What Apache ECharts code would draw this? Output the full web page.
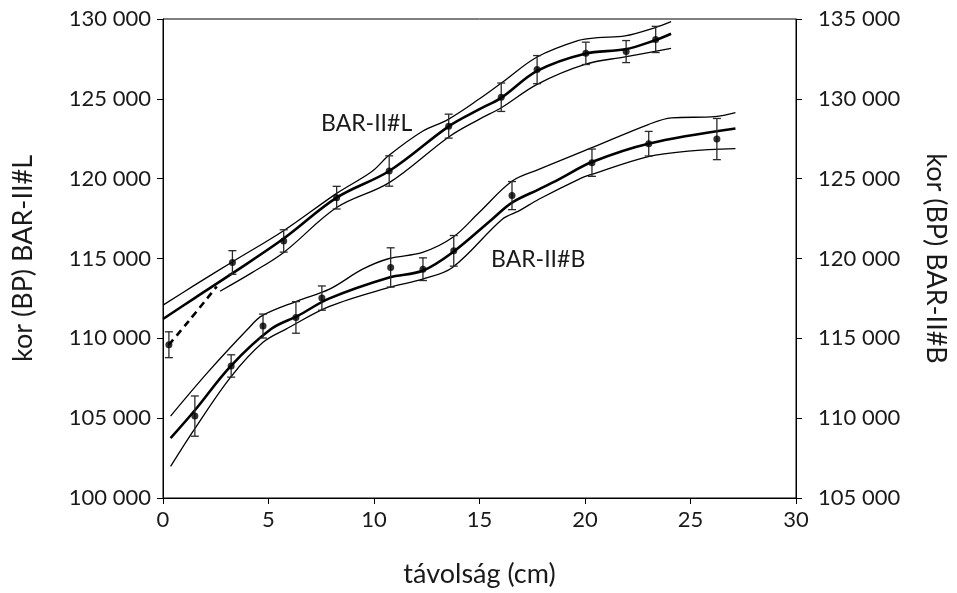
<!DOCTYPE html>
<html><head><meta charset="utf-8">
<script src="https://cdn.jsdelivr.net/npm/echarts@6/dist/echarts.min.js"></script>
<style>html,body{margin:0;padding:0;background:#fff}#c{width:957px;height:593px}</style>
</head><body><div id="c"></div>
<script>
// axis ticks
const xTicks = [0, 5, 10, 15, 20, 25, 30];
const leftTicks = [100000, 105000, 110000, 115000, 120000, 125000, 130000];
const rightTicks = [105000, 110000, 115000, 120000, 125000, 130000, 135000];

// BAR-II#L measured points (left axis)
const L_x   = [0.28, 3.29, 5.72, 8.23, 10.72, 13.54, 16.03, 17.73, 20.04, 21.95, 23.35];
const L_y   = [109600, 114750, 116100, 118810, 120480, 123290, 125100, 126830, 127850, 127960, 128720];
const L_err = [810, 740, 700, 710, 950, 750, 890, 880, 700, 690, 820];

// BAR-II#B measured points (right axis)
const B_x   = [1.51, 3.23, 4.74, 6.30, 7.53, 10.79, 12.32, 13.78, 16.54, 20.33, 23.02, 26.25];
const B_y   = [110130, 113270, 115770, 116310, 117520, 119440, 119330, 120480, 123940, 126000, 127190, 127480];
const B_err = [1260, 700, 750, 990, 760, 1230, 710, 960, 880, 855, 770, 1290];

// BAR-II#L age model curves (left axis)
const L_upper = [[0,112080],[1.5,113330],[3.3,114800],[5.75,116770],[8.23,119080],[9.9,120450],[10.7,121450],[12.3,122970],[13.5,123700],[15,125000],[16.1,126050],[17.73,127620],[19.7,128660],[20.6,128830],[21.9,128940],[23.3,129450],[24.08,129830]];
const L_mid   = [[0,111210],[1.5,112520],[3.3,114080],[5.72,116250],[8.23,118810],[10.72,120480],[13.56,123290],[15,124350],[16.05,125080],[17.73,126750],[20,127830],[21.9,128100],[23.3,128660],[24.08,129080]];
const L_lower = [[2.7,112950],[4.2,114100],[5.72,115380],[8.23,118190],[10.72,119750],[13.56,122630],[15,123730],[16.05,124460],[17.73,125910],[20,127160],[21.9,127630],[24.08,128160]];
const L_dashed = [[0.28,109600],[1.2,111050],[2.55,113250]];

// BAR-II#B age model curves (right axis)
const B_upper = [[0.36,110130],[2.13,112880],[4.02,115580],[4.7,116420],[6.39,117350],[7.89,118080],[9.46,119330],[10.72,120000],[12.3,120380],[13.72,121310],[14.98,122880],[16.55,124850],[17.81,125580],[20.33,126940],[23.0,128390],[24.1,128810],[26.16,128880],[27.13,129130]];
const B_mid   = [[0.36,108750],[1.5,110480],[3.2,113250],[5.12,115580],[6.39,116410],[7.89,117500],[10.72,118810],[12.3,119230],[13.72,120380],[15.6,122460],[16.54,123500],[17.81,124330],[18.76,124960],[20.33,126040],[23.0,127190],[27.13,128140]];
const B_lower = [[0.36,106980],[1.5,109330],[3.2,112560],[4.74,114750],[5.83,115580],[7.89,117000],[10.72,118190],[12.3,118710],[13.72,119440],[16.08,122460],[16.87,122980],[17.81,123710],[19.7,124960],[20.33,125270],[23.0,126380],[24.9,126730],[27.13,126880]];

const labelL = 'BAR-II#L';
const labelB = 'BAR-II#B';
const xName = 'távolság (cm)';
const yLeftName = 'kor (BP) BAR-II#L';
const yRightName = 'kor (BP) BAR-II#B';

const FONT = 'Lato, "Open Sans", sans-serif';
const TXT = '#1a1a1a';
const fmt = v => String(v).replace(/\B(?=(\d{3})+(?!\d))/g, ' ');

function errItem(params, api) {
  const x = api.value(0), y = api.value(1), e = api.value(2);
  const t = api.coord([x, y + e]), b = api.coord([x, y - e]);
  const w = 4, st = {stroke: '#2a2a2a', lineWidth: 1.3};
  return {type: 'group', children: [
    {type: 'line', shape: {x1: t[0], y1: t[1], x2: b[0], y2: b[1]}, style: st},
    {type: 'line', shape: {x1: t[0] - w, y1: t[1], x2: t[0] + w, y2: t[1]}, style: st},
    {type: 'line', shape: {x1: b[0] - w, y1: b[1], x2: b[0] + w, y2: b[1]}, style: st}
  ]};
}

function curve(data, yi, width, dashed) {
  return {type: 'line', yAxisIndex: yi, data: data, smooth: 0.35, showSymbol: false, silent: true,
    lineStyle: {color: '#000', width: width, type: dashed ? [7, 5] : 'solid'}, z: 2};
}

const axisCommon = {
  axisLine: {show: true, lineStyle: {color: '#000', width: 1}},
  axisTick: {show: true, length: 6, lineStyle: {color: '#000'}},
  splitLine: {show: false},
  axisLabel: {fontFamily: FONT, fontSize: 22, color: TXT},
  nameTextStyle: {fontFamily: FONT, fontSize: 27, color: TXT}
};

const chart = echarts.init(document.getElementById('c'));
chart.setOption({
  animation: false,
  backgroundColor: '#fff',
  grid: {left: 163, right: 159, top: 19, bottom: 94, show: true, borderColor: '#000', borderWidth: 1},
  xAxis: Object.assign({}, axisCommon, {
    type: 'value', min: xTicks[0], max: xTicks[xTicks.length - 1], interval: xTicks[1] - xTicks[0],
    name: xName, nameLocation: 'middle', nameGap: 63,
    axisLabel: Object.assign({}, axisCommon.axisLabel, {margin: 11})
  }),
  yAxis: [
    Object.assign({}, axisCommon, {
      type: 'value', position: 'left', min: leftTicks[0], max: leftTicks[leftTicks.length - 1],
      interval: leftTicks[1] - leftTicks[0],
      name: yLeftName, nameLocation: 'middle', nameGap: 126,
      axisLabel: Object.assign({}, axisCommon.axisLabel, {margin: 12, formatter: fmt})
    }),
    Object.assign({}, axisCommon, {
      type: 'value', position: 'right', min: rightTicks[0], max: rightTicks[rightTicks.length - 1],
      interval: rightTicks[1] - rightTicks[0],
      name: yRightName, nameLocation: 'middle', nameGap: 126, nameRotate: -90,
      axisLabel: Object.assign({}, axisCommon.axisLabel, {margin: 22, formatter: fmt})
    })
  ],
  graphic: [
    {type: 'text', left: 321, top: 112, style: {text: labelL, font: '23px ' + FONT, fill: TXT}},
    {type: 'text', left: 491, top: 248, style: {text: labelB, font: '23px ' + FONT, fill: TXT}}
  ],
  series: [
    curve(L_upper, 0, 1.3), curve(L_mid, 0, 2.6), curve(L_lower, 0, 1.3), curve(L_dashed, 0, 2.6, true),
    curve(B_upper, 1, 1.3), curve(B_mid, 1, 2.6), curve(B_lower, 1, 1.3),
    {type: 'custom', yAxisIndex: 0, renderItem: errItem, encode: {x: 0, y: 1}, z: 3,
      data: L_x.map((x, i) => [x, L_y[i], L_err[i]])},
    {type: 'custom', yAxisIndex: 1, renderItem: errItem, encode: {x: 0, y: 1}, z: 3,
      data: B_x.map((x, i) => [x, B_y[i], B_err[i]])},
    {type: 'scatter', yAxisIndex: 0, symbolSize: 7, itemStyle: {color: '#000'}, z: 4,
      data: L_x.map((x, i) => [x, L_y[i]])},
    {type: 'scatter', yAxisIndex: 1, symbolSize: 7, itemStyle: {color: '#000'}, z: 4,
      data: B_x.map((x, i) => [x, B_y[i]])}
  ]
});
</script>
</body></html>
